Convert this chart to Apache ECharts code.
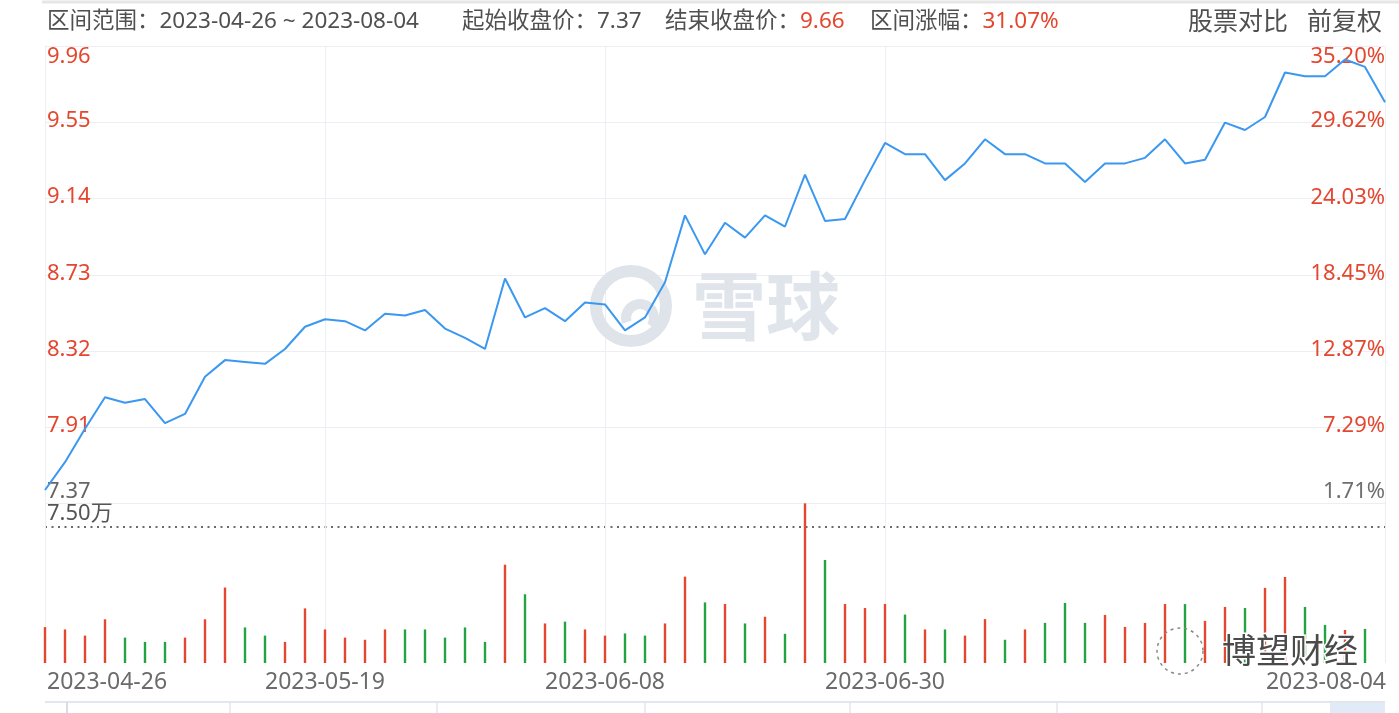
<!DOCTYPE html>
<html><head><meta charset="utf-8">
<script src="https://cdn.jsdelivr.net/npm/echarts@6/dist/echarts.min.js"></script>
<style>html,body{margin:0;padding:0;background:#fff}#c{width:1399px;height:713px}</style>
</head><body><div id="c"></div>
<script>
// ---------- data ----------
const dates = [
  '2023-04-26','2023-04-27','2023-04-28',
  '2023-05-04','2023-05-05','2023-05-08','2023-05-09','2023-05-10','2023-05-11','2023-05-12',
  '2023-05-15','2023-05-16','2023-05-17','2023-05-18','2023-05-19',
  '2023-05-22','2023-05-23','2023-05-24','2023-05-25','2023-05-26',
  '2023-05-29','2023-05-30','2023-05-31',
  '2023-06-01','2023-06-02','2023-06-05','2023-06-06','2023-06-07','2023-06-08','2023-06-09',
  '2023-06-12','2023-06-13','2023-06-14','2023-06-15','2023-06-16',
  '2023-06-19','2023-06-20','2023-06-21',
  '2023-06-26','2023-06-27','2023-06-28','2023-06-29','2023-06-30',
  '2023-07-03','2023-07-04','2023-07-05','2023-07-06','2023-07-07',
  '2023-07-10','2023-07-11','2023-07-12','2023-07-13','2023-07-14',
  '2023-07-17','2023-07-18','2023-07-19','2023-07-20','2023-07-21',
  '2023-07-24','2023-07-25','2023-07-26','2023-07-27','2023-07-28','2023-07-31',
  '2023-08-01','2023-08-02','2023-08-03','2023-08-04'
];
const closePrices = [
  7.57,7.72,7.90,8.07,8.04,8.06,7.93,7.98,8.18,8.27,
  8.26,8.25,8.33,8.45,8.49,8.48,8.43,8.52,8.51,8.54,
  8.44,8.39,8.33,8.71,8.50,8.55,8.48,8.58,8.57,8.43,
  8.50,8.69,9.05,8.84,9.01,8.93,9.05,8.99,9.27,9.02,
  9.03,9.24,9.44,9.38,9.38,9.24,9.33,9.46,9.38,9.38,
  9.33,9.33,9.23,9.33,9.33,9.36,9.46,9.33,9.35,9.55,
  9.51,9.58,9.82,9.80,9.80,9.89,9.85,9.66
];
// volume in 万
const volumes = [
  1.98,1.85,1.51,2.41,1.40,1.16,1.16,1.40,2.41,4.16,
  1.96,1.51,1.16,3.01,1.85,1.40,1.28,1.85,1.85,1.85,
  1.40,1.96,1.16,5.42,3.79,2.18,2.28,1.85,1.51,1.63,
  1.51,2.18,4.76,3.34,3.25,2.18,2.55,1.61,8.80,5.68,
  3.25,3.03,3.25,2.67,1.85,1.85,1.51,2.42,1.28,1.85,
  2.21,3.31,2.21,2.65,1.99,2.21,3.25,3.25,2.32,3.09,
  3.03,4.14,4.74,3.09,2.10,1.82,1.88,null
];
// 1 = up (red), -1 = down (green)
const volDirection = [
  1,1,1,1,-1,-1,-1,1,1,1,
  -1,-1,1,1,1,1,1,1,-1,-1,
  -1,-1,-1,1,-1,1,-1,1,1,-1,
  -1,1,1,-1,1,-1,1,-1,1,-1,
  1,1,1,-1,1,-1,1,1,-1,1,
  -1,-1,-1,1,1,1,1,-1,1,1,
  -1,1,1,-1,-1,1,-1,1
];
const priceTickValues = [7.50, 7.91, 8.32, 8.73, 9.14, 9.55, 9.96];
const priceTickLabels = ['7.37', '7.91', '8.32', '8.73', '9.14', '9.55', '9.96'];
const pctTickValues = [1.71, 7.29, 12.87, 18.45, 24.03, 29.62, 35.20];
const pctTickLabels = ['1.71%', '7.29%', '12.87%', '18.45%', '24.03%', '29.62%', '35.20%'];
const volMax = 8.82;
const volTickValues = [7.5];
const volTickLabels = ['7.50万'];
const xLabelIndices = [0, 14, 28, 42, 67];

const headerRange = '区间范围：2023-04-26 ~ 2023-08-04';
const headerStart = '起始收盘价：7.37';
const headerEndLabel = '结束收盘价：', headerEndValue = '9.66';
const headerChgLabel = '区间涨幅：', headerChgValue = '31.07%';
const headerCompare = '股票对比', headerAdjust = '前复权';

// ---------- style ----------
const FONT = '"Noto Sans", "Noto Sans CJK SC", sans-serif';
const RED = '#e4472f', GREEN = '#23a443', GREY = '#666', GRID = '#eceef3';
const AX_FS = 22, X_FS = 23, H_FS = 22.5;
const HFONT = H_FS + 'px ' + FONT;

const ctx = document.createElement('canvas').getContext('2d');
ctx.font = X_FS + 'px "Noto Sans"';
const wFirst = ctx.measureText(dates[xLabelIndices[0]]).width;
const wLast = ctx.measureText(dates[xLabelIndices[xLabelIndices.length - 1]]).width;

function nearest(arr, v) {
  let bi = 0, bd = Infinity;
  arr.forEach((a, i) => { const d = Math.abs(a - v); if (d < bd) { bd = d; bi = i; } });
  return bi;
}
function yRich(color, botColor) {
  return {
    top: {padding: [21, 0, 0, 0], color: color, fontSize: AX_FS, fontFamily: FONT},
    mid: {padding: [0, 0, 3, 0], color: color, fontSize: AX_FS, fontFamily: FONT},
    bot: {padding: [0, 0, 22, 0], color: botColor, fontSize: AX_FS, fontFamily: FONT}
  };
}
function yFmt(values, labels) {
  return function (v) {
    const i = nearest(values, v);
    const key = i === values.length - 1 ? 'top' : (i === 0 ? 'bot' : 'mid');
    return '{' + key + '|' + labels[i] + '}';
  };
}

const chart = echarts.init(document.getElementById('c'), null, {renderer: 'canvas'});
chart.setOption({
  animation: false,
  backgroundColor: '#fff',
  grid: [
    {left: 45, right: 14, top: 46.5, height: 456.5},
    {left: 45, right: 14, top: 503, height: 160}
  ],
  xAxis: [
    {
      type: 'category', gridIndex: 0, data: dates, boundaryGap: false,
      axisLine: {show: false}, axisTick: {show: false}, axisLabel: {show: false},
      splitLine: {show: true, interval: (i) => xLabelIndices.includes(i), lineStyle: {color: GRID, width: 1}}
    },
    {
      type: 'category', gridIndex: 1, data: dates, boundaryGap: false,
      axisLine: {show: false}, axisTick: {show: false},
      splitLine: {show: true, interval: (i) => xLabelIndices.includes(i), lineStyle: {color: GRID, width: 1}},
      axisLabel: {
        interval: (i) => xLabelIndices.includes(i),
        margin: 8, color: '#6b6b6b', fontSize: X_FS, fontFamily: FONT,
        formatter: function (v, idx) {
          if (idx === xLabelIndices[0]) return '{first|' + v + '}';
          if (idx === xLabelIndices[xLabelIndices.length - 1]) return '{last|' + v + '}';
          return '{mid|' + v + '}';
        },
        rich: {
          first: {padding: [0, 0, 0, wFirst + 4], color: '#6b6b6b', fontSize: X_FS, fontFamily: FONT},
          last: {padding: [0, wLast - 2, 0, 0], color: '#6b6b6b', fontSize: X_FS, fontFamily: FONT},
          mid: {color: '#6b6b6b', fontSize: X_FS, fontFamily: FONT}
        }
      }
    }
  ],
  yAxis: [
    {
      type: 'value', gridIndex: 0, position: 'left',
      min: priceTickValues[0], max: priceTickValues[priceTickValues.length - 1],
      axisLine: {show: false},
      axisTick: {show: false, customValues: priceTickValues},
      splitLine: {show: true, lineStyle: {color: GRID, width: 1}},
      axisLabel: {
        inside: true, margin: 2, customValues: priceTickValues,
        fontSize: AX_FS, fontFamily: FONT, color: RED,
        formatter: yFmt(priceTickValues, priceTickLabels),
        rich: yRich(RED, GREY)
      }
    },
    {
      type: 'value', gridIndex: 0, position: 'right',
      min: pctTickValues[0], max: pctTickValues[pctTickValues.length - 1],
      axisLine: {show: false},
      axisTick: {show: false, customValues: pctTickValues},
      splitLine: {show: false},
      axisLabel: {
        inside: true, margin: 0, customValues: pctTickValues,
        fontSize: AX_FS, fontFamily: FONT, color: RED,
        formatter: yFmt(pctTickValues, pctTickLabels),
        rich: yRich(RED, '#6f6f6f')
      }
    },
    {
      type: 'value', gridIndex: 1, position: 'left', min: 0, max: volMax,
      axisLine: {show: false},
      axisTick: {show: false, customValues: volTickValues},
      splitLine: {show: true, lineStyle: {color: '#3a3a3a', width: 1.6, type: [2, 4.5]}},
      axisLabel: {
        inside: true, margin: 2, customValues: volTickValues,
        fontSize: AX_FS, fontFamily: FONT, color: GREY,
        formatter: function (v) { return '{v|' + volTickLabels[nearest(volTickValues, v)] + '}'; },
        rich: {v: {padding: [0, 0, 26, 0], color: '#555', fontSize: AX_FS, fontFamily: FONT}}
      }
    }
  ],
  series: [
    {
      type: 'line', xAxisIndex: 0, yAxisIndex: 0, data: closePrices,
      showSymbol: false, symbol: 'none', z: 5,
      lineStyle: {color: '#3a98f0', width: 2}
    },
    {
      type: 'bar', xAxisIndex: 1, yAxisIndex: 2, data: volumes,
      barWidth: 2.4, clip: false, z: 3,
      itemStyle: {color: (p) => volDirection[p.dataIndex] > 0 ? RED : GREEN}
    }
  ],
  graphic: [
    // header
    {type: 'line', shape: {x1: 42, y1: 2, x2: 1399, y2: 2}, style: {stroke: '#e6e6e6', lineWidth: 3}, silent: true},
    {type: 'text', x: 47, y: 22, style: {text: headerRange, fill: '#505050', font: HFONT, verticalAlign: 'middle'}},
    {type: 'text', x: 462, y: 22, style: {text: headerStart, fill: '#505050', font: HFONT, verticalAlign: 'middle'}},
    {type: 'text', x: 665, y: 22, style: {text: headerEndLabel + '{r|' + headerEndValue + '}', fill: '#505050', font: HFONT, verticalAlign: 'middle', rich: {r: {fill: RED, font: HFONT}}}},
    {type: 'text', x: 870, y: 22, style: {text: headerChgLabel + '{r|' + headerChgValue + '}', fill: '#505050', font: HFONT, verticalAlign: 'middle', rich: {r: {fill: RED, font: HFONT}}}},
    {type: 'text', x: 1188, y: 23, style: {text: headerCompare, fill: '#505050', font: '25px ' + FONT, verticalAlign: 'middle'}},
    {type: 'text', x: 1382, y: 23, style: {text: headerAdjust, fill: '#505050', font: '25px ' + FONT, verticalAlign: 'middle', align: 'right'}},
    // xueqiu watermark
    {type: 'circle', shape: {cx: 631, cy: 306, r: 35}, style: {fill: 'none', stroke: '#dfe3ea', lineWidth: 12}, z: 1, silent: true},
    {type: 'arc', shape: {cx: 640, cy: 318, r: 14, startAngle: Math.PI * 0.9, endAngle: Math.PI * 2.2}, style: {fill: 'none', stroke: '#dfe3ea', lineWidth: 10}, z: 1, silent: true},
    {type: 'text', x: 766, y: 306, z: 1, silent: true, style: {text: '雪球', fill: '#e0e4eb', font: 'bold 74px "Noto Sans CJK SC"', align: 'center', verticalAlign: 'middle'}},
    // wechat watermark
    {type: 'circle', shape: {cx: 1180, cy: 651, r: 23}, style: {fill: 'none', stroke: '#888', lineWidth: 1.5, lineDash: [3, 4]}, z: 10, silent: true},
    {type: 'text', x: 1222, y: 650, z: 10, silent: true, style: {text: '博望财经', fill: '#4a4a4a', font: '34px "Noto Sans CJK SC"', verticalAlign: 'middle', stroke: '#fff', lineWidth: 3}},
    // bottom strip
    {type: 'line', shape: {x1: 45, y1: 702, x2: 1385, y2: 702}, style: {stroke: '#e3e6ec', lineWidth: 2}, silent: true},
    {type: 'rect', shape: {x: 1330, y: 703, width: 55, height: 10}, style: {fill: '#e1ebf8'}, silent: true},
    {type: 'line', shape: {x1: 67, y1: 702, x2: 67, y2: 713}, style: {stroke: '#d8dce3', lineWidth: 2}, silent: true},
    {type: 'line', shape: {x1: 230, y1: 702, x2: 230, y2: 713}, style: {stroke: '#e3e6ec', lineWidth: 1.5}, silent: true},
    {type: 'line', shape: {x1: 437, y1: 702, x2: 437, y2: 713}, style: {stroke: '#e3e6ec', lineWidth: 1.5}, silent: true},
    {type: 'line', shape: {x1: 645, y1: 702, x2: 645, y2: 713}, style: {stroke: '#e3e6ec', lineWidth: 1.5}, silent: true},
    {type: 'line', shape: {x1: 850, y1: 702, x2: 850, y2: 713}, style: {stroke: '#e3e6ec', lineWidth: 1.5}, silent: true},
    {type: 'line', shape: {x1: 1057, y1: 702, x2: 1057, y2: 713}, style: {stroke: '#e3e6ec', lineWidth: 1.5}, silent: true},
    {type: 'line', shape: {x1: 1262, y1: 702, x2: 1262, y2: 713}, style: {stroke: '#e3e6ec', lineWidth: 1.5}, silent: true}
  ]
});
</script>
</body></html>
